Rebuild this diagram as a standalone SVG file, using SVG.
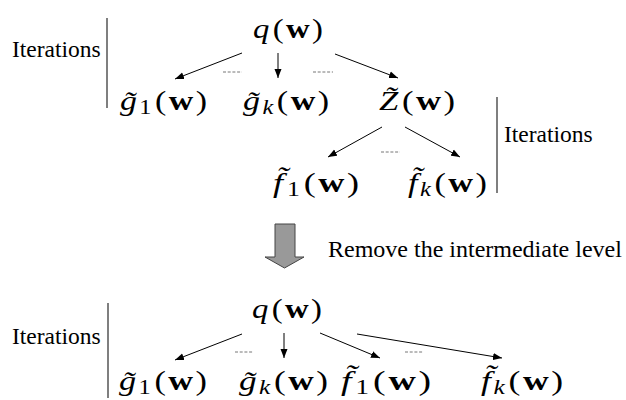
<svg xmlns="http://www.w3.org/2000/svg" width="626" height="400" viewBox="0 0 626 400" font-family="Liberation Serif, serif">
<style>
.vl{stroke:#555;stroke-width:1.5}
.ar{stroke:#000;stroke-width:1;fill:none;marker-end:url(#ah)}
.ds{stroke:#777;stroke-width:1;stroke-dasharray:3 1.7}
</style>
<defs>
<marker id="ah" markerUnits="userSpaceOnUse" markerWidth="10" markerHeight="8" refX="9" refY="4" orient="auto">
<path d="M0,0.5 L9,4 L0,7.5 Z" fill="#000"/>
</marker>
</defs>
<g id="top-iter">
<line class="vl" x1="107" y1="18" x2="107" y2="108"/>
<text x="12" y="57" font-size="23.5">Iterations</text>
</g>
<g id="q-top"><text x="253" y="38" font-size="28" textLength="70" lengthAdjust="spacingAndGlyphs"><tspan font-style="italic">q</tspan><tspan dx="3">(</tspan><tspan dx="2" font-weight="bold">w</tspan><tspan dx="2">)</tspan></text></g>
<g id="g1-top"><text x="120" y="110" font-size="28" textLength="87" lengthAdjust="spacingAndGlyphs"><tspan font-style="italic">g̃</tspan><tspan font-size="20" dx="2" dy="4">1</tspan><tspan dx="3" dy="-4">(</tspan><tspan dx="2" font-weight="bold">w</tspan><tspan dx="2">)</tspan></text></g>
<g id="gk-top"><text x="243" y="110" font-size="28" textLength="86" lengthAdjust="spacingAndGlyphs"><tspan font-style="italic">g̃</tspan><tspan font-size="20" font-style="italic" dx="2" dy="4">k</tspan><tspan dx="3" dy="-4">(</tspan><tspan dx="2" font-weight="bold">w</tspan><tspan dx="2">)</tspan></text></g>
<g id="Z-top"><text x="379" y="110" font-size="28" textLength="76" lengthAdjust="spacingAndGlyphs"><tspan font-style="italic">Z̃</tspan><tspan dx="3">(</tspan><tspan dx="2" font-weight="bold">w</tspan><tspan dx="2">)</tspan></text></g>
<g id="f1-top"><text x="273" y="192" font-size="28" textLength="86" lengthAdjust="spacingAndGlyphs"><tspan font-style="italic">f̃</tspan><tspan font-size="20" dx="3" dy="4">1</tspan><tspan dx="3" dy="-4">(</tspan><tspan dx="2" font-weight="bold">w</tspan><tspan dx="2">)</tspan></text></g>
<g id="fk-top"><text x="408" y="192" font-size="28" textLength="79" lengthAdjust="spacingAndGlyphs"><tspan font-style="italic">f̃</tspan><tspan font-size="20" font-style="italic" dx="2" dy="4">k</tspan><tspan dx="3" dy="-4">(</tspan><tspan dx="2" font-weight="bold">w</tspan><tspan dx="2">)</tspan></text></g>
<g id="right-iter">
<line class="vl" x1="497" y1="97" x2="497" y2="193"/>
<text x="504" y="142" font-size="23.5">Iterations</text>
</g>
<g id="transform">
<polygon points="275,224 295,224 295,257 304,257 284.5,268 265,257 275,257" fill="#999" stroke="#444" stroke-width="1"/>
<text x="328" y="257" font-size="24">Remove the intermediate level</text>
</g>
<g id="bottom-iter">
<line class="vl" x1="108" y1="303" x2="108" y2="398"/>
<text x="12" y="344" font-size="23.5">Iterations</text>
</g>
<g id="q-bot"><text x="252" y="318" font-size="28" textLength="70" lengthAdjust="spacingAndGlyphs"><tspan font-style="italic">q</tspan><tspan dx="3">(</tspan><tspan dx="2" font-weight="bold">w</tspan><tspan dx="2">)</tspan></text></g>
<g id="g1-bot"><text x="119" y="390" font-size="28" textLength="88" lengthAdjust="spacingAndGlyphs"><tspan font-style="italic">g̃</tspan><tspan font-size="20" dx="2" dy="4">1</tspan><tspan dx="3" dy="-4">(</tspan><tspan dx="2" font-weight="bold">w</tspan><tspan dx="2">)</tspan></text></g>
<g id="gk-bot"><text x="239" y="390" font-size="28" textLength="89" lengthAdjust="spacingAndGlyphs"><tspan font-style="italic">g̃</tspan><tspan font-size="20" font-style="italic" dx="2" dy="4">k</tspan><tspan dx="3" dy="-4">(</tspan><tspan dx="2" font-weight="bold">w</tspan><tspan dx="2">)</tspan></text></g>
<g id="f1-bot"><text x="341" y="390" font-size="28" textLength="90" lengthAdjust="spacingAndGlyphs"><tspan font-style="italic">f̃</tspan><tspan font-size="20" dx="3" dy="4">1</tspan><tspan dx="3" dy="-4">(</tspan><tspan dx="2" font-weight="bold">w</tspan><tspan dx="2">)</tspan></text></g>
<g id="fk-bot"><text x="481" y="390" font-size="28" textLength="82" lengthAdjust="spacingAndGlyphs"><tspan font-style="italic">f̃</tspan><tspan font-size="20" font-style="italic" dx="2" dy="4">k</tspan><tspan dx="3" dy="-4">(</tspan><tspan dx="2" font-weight="bold">w</tspan><tspan dx="2">)</tspan></text></g>
<g id="connectors">
<line class="ar" x1="242" y1="53" x2="175" y2="79"/>
<line class="ar" x1="278" y1="53" x2="278" y2="78"/>
<line class="ar" x1="335" y1="54" x2="398" y2="78"/>
<line class="ds" x1="223" y1="72" x2="242" y2="72"/>
<line class="ds" x1="313" y1="72" x2="333" y2="72"/>
<line class="ar" x1="382" y1="127" x2="328" y2="157"/>
<line class="ar" x1="405" y1="127" x2="460" y2="157"/>
<line class="ds" x1="381" y1="152" x2="400" y2="152"/>
<line class="ar" x1="242" y1="334" x2="175" y2="360"/>
<line class="ar" x1="284" y1="333" x2="284" y2="358"/>
<line class="ar" x1="320" y1="333" x2="380" y2="358"/>
<line class="ar" x1="357" y1="334" x2="502" y2="358"/>
<line class="ds" x1="235" y1="352" x2="253" y2="352"/>
<line class="ds" x1="405" y1="352" x2="423" y2="352"/>
</g>
</svg>
